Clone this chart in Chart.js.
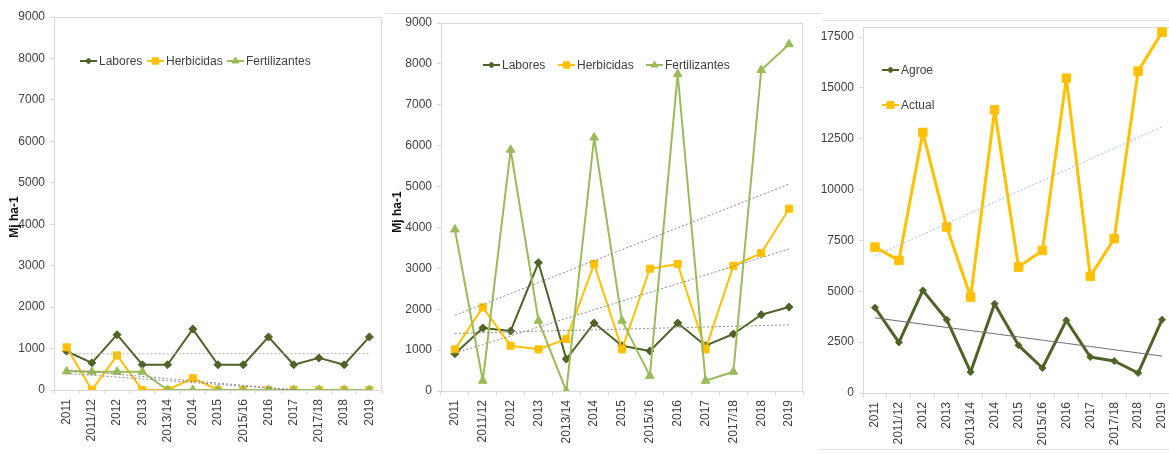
<!DOCTYPE html>
<html>
<head>
<meta charset="utf-8">
<title>Mj ha-1</title>
<style>
  html, body { margin: 0; padding: 0; background: #fff; overflow: hidden; width: 1169px; height: 454px; }
  .panel { position: absolute; top: 0; height: 454px; }
  .rule { position: absolute; height: 1px; background: #e2e2e2; }
</style>
<script src="https://cdn.jsdelivr.net/npm/chart.js@4"></script>
</head>
<body>
<div class="rule" style="top:13px;left:385px;width:437px"></div>
<div class="rule" style="top:20px;left:822px;width:347px"></div>
<div class="rule" style="top:449px;left:820px;width:349px"></div>
<div class="panel" style="left:0;width:394px"><canvas id="c1" width="394" height="454"></canvas></div>
<div class="panel" style="left:384px;width:431px"><canvas id="c2" width="431" height="454"></canvas></div>
<div class="panel" style="left:804px;width:382px"><canvas id="c3" width="382" height="454"></canvas></div>
<script>
// Campaigns on the category axis
const years = ['2011', '2011/12', '2012', '2013', '2013/14', '2014', '2015', '2015/16', '2016', '2017', '2017/18', '2018', '2019'];

// Left chart (Mj ha-1)
const laboresA = [935, 655, 1335, 610, 610, 1470, 610, 610, 1280, 610, 775, 610, 1280];
const herbicidasA = [1030, 0, 835, 0, 0, 285, 0, 0, 0, 0, 0, 0, 0];
const fertilizantesA = [450, 440, 440, 440, 0, 0, 0, 0, 0, 0, 0, 0, 0];

// Middle chart (Mj ha-1)
const laboresB = [913, 1540, 1467, 3138, 782, 1663, 1108, 978, 1663, 1108, 1394, 1866, 2054];
const herbicidasB = [1019, 2046, 1108, 1019, 1271, 3105, 1019, 2991, 3105, 1019, 3064, 3374, 4458];
const fertilizantesB = [3950, 250, 5900, 1720, 0, 6200, 1720, 370, 7750, 250, 470, 7850, 8480];

// Right chart
const agroe = [4195, 2491, 5047, 3605, 1032, 4391, 2343, 1229, 3572, 1770, 1573, 983, 3605];
const actual = [7177, 6521, 12814, 8160, 4719, 13928, 6194, 7013, 15485, 5735, 7587, 15829, 17746];

// Value-axis tick labels
const yTicksAB = [0, 1000, 2000, 3000, 4000, 5000, 6000, 7000, 8000, 9000];
const yTicksC = [0, 2500, 5000, 7500, 10000, 12500, 15000, 17500];
const yMaxAB = 9000;
const yMaxC = 18000;

const FONT = '"Liberation Sans", Arial, Helvetica, sans-serif';
const TEXT = '#404040';
const FRAME = '#d9d9d9';
const C_LAB = '#4F6228', C_HERB = '#FFC000', C_FERT = '#9BBB59';

Chart.defaults.font.family = FONT;
Chart.defaults.font.size = 12;
Chart.defaults.color = TEXT;

// Least-squares linear trend over the category index
function linearTrend(values) {
  const n = values.length;
  let sx = 0, sy = 0, sxy = 0, sxx = 0;
  values.forEach((v, i) => { sx += i; sy += v; sxy += i * v; sxx += i * i; });
  const b = (n * sxy - sx * sy) / (n * sxx - sx * sx);
  const a = (sy - b * sx) / n;
  return values.map((_, i) => a + b * i);
}

// Light frame around the plot area
const plotFrame = {
  id: 'plotFrame',
  beforeDatasetsDraw(chart) {
    const { ctx, chartArea: a } = chart;
    ctx.save();
    ctx.strokeStyle = FRAME;
    ctx.lineWidth = 1;
    const l = Math.round(a.left) + 0.5, t = Math.round(a.top) + 0.5;
    const r = Math.round(a.right) - 0.5, b = Math.round(a.bottom) + 0.5;
    ctx.strokeRect(l, t, r - l, b - t);
    ctx.restore();
  }
};

// Series key drawn inside the plot area: line sample with its marker, then the name
const insideLegend = {
  id: 'insideLegend',
  afterDatasetsDraw(chart, args, opts) {
    if (!opts.items) return;
    const ctx = chart.ctx;
    ctx.save();
    opts.items.forEach(it => {
      const ds = chart.data.datasets[it.index];
      ctx.strokeStyle = ds.borderColor;
      ctx.lineWidth = Math.min(ds.borderWidth, 2);
      ctx.setLineDash([]);
      ctx.beginPath();
      ctx.moveTo(it.x, it.y);
      ctx.lineTo(it.x + 17, it.y);
      ctx.stroke();
      ctx.fillStyle = ds.pointBackgroundColor;
      ctx.strokeStyle = ds.pointBorderColor;
      ctx.lineWidth = 1;
      Chart.helpers.drawPoint(ctx, { pointStyle: ds.pointStyle, radius: it.r, borderWidth: 1, rotation: 0 }, it.x + 8.5, it.y);
      ctx.font = '12px ' + FONT;
      ctx.fillStyle = TEXT;
      ctx.textAlign = 'left';
      ctx.textBaseline = 'middle';
      ctx.fillText(ds.label, it.x + 19, it.y + 0.5);
    });
    ctx.restore();
  }
};

// Rotated value-axis caption
const axisCaption = {
  id: 'axisCaption',
  afterDraw(chart, args, opts) {
    if (!opts.text) return;
    const ctx = chart.ctx;
    ctx.save();
    ctx.translate(opts.x, opts.y);
    ctx.rotate(-Math.PI / 2);
    ctx.font = 'bold 12px ' + FONT;
    ctx.fillStyle = '#111';
    ctx.textAlign = 'center';
    ctx.textBaseline = 'middle';
    ctx.fillText(opts.text, 0, 0);
    ctx.restore();
  }
};

function series(label, data, color, style, radius, width, order) {
  return {
    label, data, order,
    borderColor: color, backgroundColor: color,
    pointBackgroundColor: color, pointBorderColor: color,
    borderWidth: width, borderJoinStyle: 'round', pointStyle: style, pointRadius: radius,
    pointBorderWidth: 1, pointHoverRadius: radius, tension: 0
  };
}

function trendSet(values, color, dash) {
  return {
    label: '', data: linearTrend(values), order: 0,
    borderColor: color, borderWidth: 1, borderDash: dash,
    pointRadius: 0, pointHoverRadius: 0, clip: 0, tension: 0, fill: false
  };
}

function makeChart(id, datasets, cfg) {
  return new Chart(document.getElementById(id), {
    type: 'line',
    data: { labels: years, datasets },
    options: {
      responsive: false,
      animation: false,
      events: [],
      layout: { padding: cfg.padding },
      plugins: {
        legend: { display: false },
        tooltip: { enabled: false },
        insideLegend: { items: cfg.legend },
        axisCaption: cfg.caption || {}
      },
      scales: {
        x: {
          type: 'category',
          offset: true,
          afterFit(s) { s.height = cfg.xHeight; },
          grid: { offset: true, drawOnChartArea: false, drawTicks: true, tickLength: 4, color: FRAME },
          border: { display: false },
          ticks: { minRotation: 90, maxRotation: 90, autoSkip: false, padding: 5, color: TEXT, font: { size: 12 } }
        },
        y: {
          min: 0, max: cfg.yMax,
          afterFit(s) { s.width = cfg.yWidth; },
          afterBuildTicks(s) { s.ticks = cfg.yTicks.map(v => ({ value: v })); },
          grid: { drawOnChartArea: false, drawTicks: true, tickLength: 4, color: FRAME },
          border: { display: false },
          ticks: { autoSkip: false, padding: 5, color: TEXT, font: { size: 12 }, callback: v => String(v) }
        }
      }
    },
    plugins: [plotFrame, insideLegend, axisCaption]
  });
}

const TREND = '#8a8a8a';

makeChart('c1', [
  series('Labores', laboresA, C_LAB, 'rectRot', 4, 2, 3),
  series('Herbicidas', herbicidasA, C_HERB, 'rect', 5, 2, 2),
  series('Fertilizantes', fertilizantesA, C_FERT, 'triangle', 5, 2, 1),
  trendSet(laboresA, '#b0b0b0', [2, 2]),
  trendSet(herbicidasA, TREND, [2, 2]),
  trendSet(fertilizantesA, TREND, [2, 2])
], {
  padding: { left: 0, top: 17, right: 12, bottom: 0 },
  yWidth: 54, xHeight: 64, yMax: yMaxAB, yTicks: yTicksAB,
  legend: [
    { index: 0, x: 80, y: 61, r: 3 },
    { index: 1, x: 147, y: 61, r: 4.5 },
    { index: 2, x: 227, y: 61, r: 4 }
  ],
  caption: { text: 'Mj ha-1', x: 15, y: 217 }
});

makeChart('c2', [
  series('Labores', laboresB, C_LAB, 'rectRot', 4, 2, 3),
  series('Herbicidas', herbicidasB, C_HERB, 'rect', 5, 2, 2),
  series('Fertilizantes', fertilizantesB, C_FERT, 'triangle', 5, 2, 1),
  trendSet(laboresB, TREND, [2, 2]),
  trendSet(herbicidasB, TREND, [2, 2]),
  trendSet(fertilizantesB, TREND, [2, 2])
], {
  padding: { left: 0, top: 23, right: 12, bottom: 0 },
  yWidth: 57, xHeight: 63, yMax: yMaxAB, yTicks: yTicksAB,
  legend: [
    { index: 0, x: 99, y: 65, r: 3 },
    { index: 1, x: 174, y: 65, r: 4.5 },
    { index: 2, x: 262, y: 65, r: 4 }
  ],
  caption: { text: 'Mj ha-1', x: 14, y: 212 }
});

makeChart('c3', [
  series('Agroe', agroe, C_LAB, 'rectRot', 3.5, 3, 2),
  series('Actual', actual, C_HERB, 'rect', 6, 3, 1),
  trendSet(agroe, '#6e6e6e', []),
  trendSet(actual, '#9dbde6', [2, 2])
], {
  padding: { left: 0, top: 27, right: 12, bottom: 0 },
  yWidth: 59, xHeight: 61, yMax: yMaxC, yTicks: yTicksC,
  legend: [
    { index: 0, x: 78, y: 70, r: 3 },
    { index: 1, x: 78, y: 105, r: 5 }
  ]
});
</script>
</body>
</html>
